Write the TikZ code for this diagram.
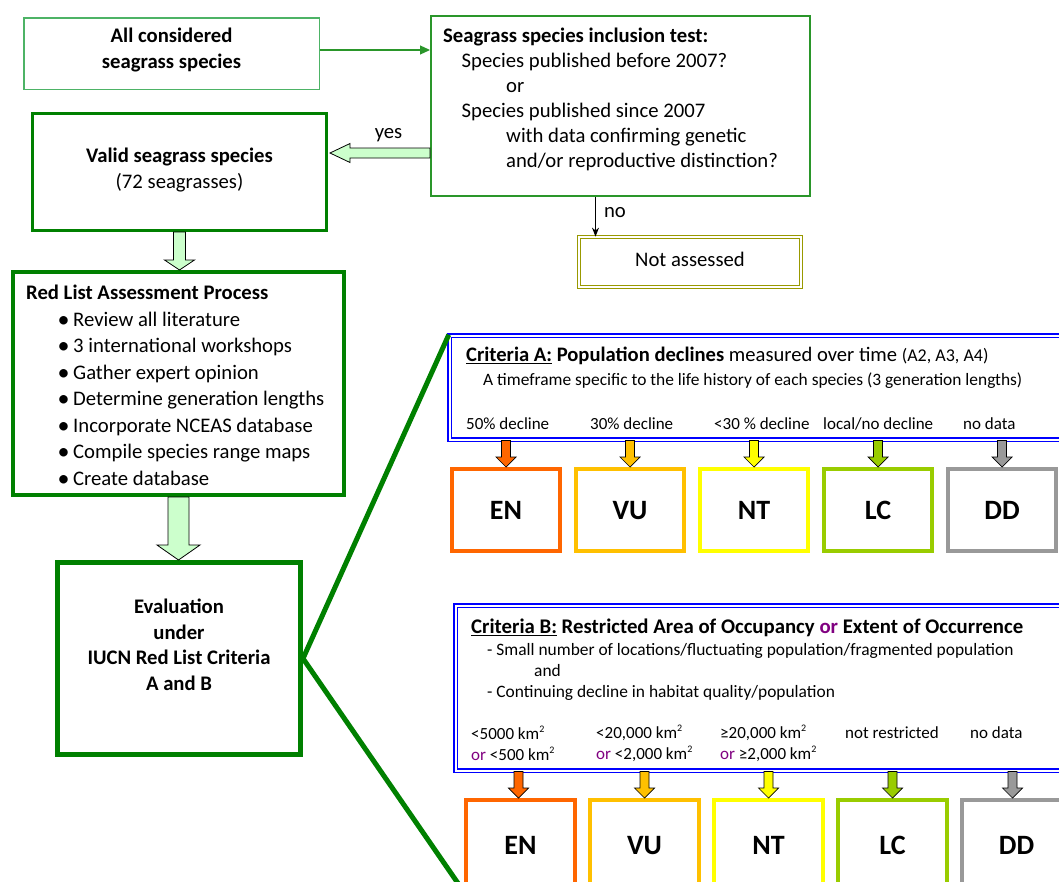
\documentclass[tikz,border=0pt]{standalone}
\usepackage{fontspec}
\setmainfont{Carlito}
\usetikzlibrary{positioning,calc,arrows.meta}

\definecolor{boxgreen}{HTML}{008000}
\definecolor{lightframe}{HTML}{4DB366}
\definecolor{testgreen}{HTML}{2A962A}
\definecolor{arrowfill}{HTML}{CCFFCC}
\definecolor{critblue}{HTML}{0000FF}
\definecolor{oliveframe}{HTML}{999900}
\definecolor{orpurple}{HTML}{800080}
\definecolor{enorange}{HTML}{FF6600}
\definecolor{vugold}{HTML}{FFC000}
\definecolor{ntyellow}{HTML}{FFFF00}
\definecolor{lcgreen}{HTML}{99CC00}
\definecolor{ddgray}{HTML}{999999}

\begin{document}
\begin{tikzpicture}[x=1pt,y=-1pt,> = stealth,
	frame/.style={draw, anchor=north west},
	txt/.style={inner sep=0pt, font=\fontsize{20.7}{26}\selectfont},
	txtb/.style={inner sep=0pt, font=\fontsize{20.7}{26}\selectfont\bfseries},
	small/.style={inner sep=0pt, anchor=west, font=\fontsize{17}{21}\selectfont},
	critbox/.style={draw=critblue, double=white, line width=1.5pt, double distance=2pt, anchor=north west},
	cat/.style={draw, line width=4pt, anchor=north west, minimum width=108pt, minimum height=82pt, text height=19pt, text depth=0pt, font=\fontsize{28}{30}\selectfont\bfseries},
	fat/.style={draw=black, line width=0.8pt, fill=arrowfill},
	catarrow/.style={draw=black, line width=0.7pt},
	fatdown/.style n args={3}{to path={($(\tikztostart)+(-#1,0)$) -- ($(\tikztostart)+(#1,0)$) -- ($(\tikztotarget)+(#1,-#3)$) -- ($(\tikztotarget)+(#2,-#3)$) -- (\tikztotarget) -- ($(\tikztotarget)+(-#2,-#3)$) -- ($(\tikztotarget)+(-#1,-#3)$) -- cycle}},
	fatleft/.style n args={3}{to path={($(\tikztostart)+(0,-#1)$) -- ($(\tikztotarget)+(#3,-#1)$) -- ($(\tikztotarget)+(#3,-#2)$) -- (\tikztotarget) -- ($(\tikztotarget)+(#3,#2)$) -- ($(\tikztotarget)+(#3,#1)$) -- ($(\tikztostart)+(0,#1)$) -- cycle}}]
	\useasboundingbox (0,0) rectangle (1059,881);

	% Species selection
	\node[frame, draw=lightframe, line width=1.5pt, minimum width=295.5pt, minimum height=71.5pt] (all) at (23,17) {};
	\node[txtb, align=center] (alltxt) at (171.5,49.7) {All considered\\seagrass species};

	\node[frame, draw=testgreen, line width=1.8pt, minimum width=379.2pt, minimum height=180.2pt] (test) at (430,15) {};
	\node[txt, anchor=west, align=left, font=\fontsize{20.7}{25}\selectfont] (testtxt) at (443,99.5) {\textbf{Seagrass species inclusion test:}\\\hspace*{18.5pt}Species published before 2007?\\\hspace*{63pt}or\\\hspace*{18.5pt}Species published since 2007\\\hspace*{63pt}with data confirming genetic\\\hspace*{63pt}and/or reproductive distinction?};

	\node[frame, draw=boxgreen, line width=3pt, minimum width=294pt, minimum height=117pt] (valid) at (31,112) {};
	\node[txt, align=center] (validtxt) at (179.5,169.7) {\textbf{Valid seagrass species}\\(72 seagrasses)};

	\node[frame, draw=oliveframe, double=white, line width=1.2pt, double distance=2pt, minimum width=221.6pt, minimum height=49.6pt] (notass) at (578.6,236.6) {};
	\node[txt] (notasstxt) at (690,259) {Not assessed};

	% Assessment
	\node[frame, draw=boxgreen, line width=4pt, minimum width=331pt, minimum height=223pt] (process) at (11,270) {};
	\node[txt, anchor=west, align=left, font=\fontsize{20.7}{26.5}\selectfont] (processtxt) at (26,385.5) {\textbf{Red List Assessment Process}\\
		\hspace*{31.5pt}\makebox[15.5pt][l]{\raisebox{-1pt}{\fontsize{24}{24}\selectfont\textbullet}}Review all literature\\
		\hspace*{31.5pt}\makebox[15.5pt][l]{\raisebox{-1pt}{\fontsize{24}{24}\selectfont\textbullet}}3 international workshops\\
		\hspace*{31.5pt}\makebox[15.5pt][l]{\raisebox{-1pt}{\fontsize{24}{24}\selectfont\textbullet}}Gather expert opinion\\
		\hspace*{31.5pt}\makebox[15.5pt][l]{\raisebox{-1pt}{\fontsize{24}{24}\selectfont\textbullet}}Determine generation lengths\\
		\hspace*{31.5pt}\makebox[15.5pt][l]{\raisebox{-1pt}{\fontsize{24}{24}\selectfont\textbullet}}Incorporate NCEAS database\\
		\hspace*{31.5pt}\makebox[15.5pt][l]{\raisebox{-1pt}{\fontsize{24}{24}\selectfont\textbullet}}Compile species range maps\\
		\hspace*{31.5pt}\makebox[15.5pt][l]{\raisebox{-1pt}{\fontsize{24}{24}\selectfont\textbullet}}Create database};

	\node[frame, draw=boxgreen, line width=5pt, minimum width=243pt, minimum height=192pt] (eval) at (55,560) {};
	\node[txtb, align=center, font=\fontsize{20.7}{25.5}\selectfont\bfseries] (evaltxt) at (179,645) {Evaluation\\under\\IUCN Red List Criteria\\A and B};

	% Criteria A
	\node[critbox, minimum width=620pt, minimum height=104.2pt] (critA) at (448.75,334.75) {};
	\node[txt, anchor=west, font=\fontsize{20.6}{24}\selectfont] (critAtitle) at (466,356) {\textbf{\underline{Criteria A:} Population declines} measured over time {\fontsize{18}{20}\selectfont(A2, A3, A4)}};
	\node[small, font=\fontsize{17.4}{21}\selectfont] (critAsub) at (483,381) {A timeframe specific to the life history of each species (3 generation lengths)};
	\node[small] (declEN) at (466,424) {50\% decline};
	\node[small] (declVU) at (590,424) {30\% decline};
	\node[small] (declNT) at (714,424) {<30 \% decline};
	\node[small] (declLC) at (823,424) {local/no decline};
	\node[small] (declDD) at (963,424) {no data};

	\node[cat, draw=enorange] (enA) at (450,467) {EN};
	\node[cat, draw=vugold, right=12pt of enA] (vuA) {VU};
	\node[cat, draw=ntyellow, right=12pt of vuA] (ntA) {NT};
	\node[cat, draw=lcgreen, right=12pt of ntA] (lcA) {LC};
	\node[cat, draw=ddgray, right=12pt of lcA] (ddA) {DD};

	% Criteria B
	\node[critbox, minimum width=620pt, minimum height=165.2pt] (critB) at (454.75,604.75) {};
	\node[txtb, anchor=west, font=\fontsize{20.8}{24}\selectfont\bfseries] (critBtitle) at (471,628) {\underline{Criteria B:} Restricted Area of Occupancy \textcolor{orpurple}{or} Extent of Occurrence};
	\node[small, align=left, font=\fontsize{17.4}{21}\selectfont] (critBsub) at (487,672) {- Small number of locations/fluctuating population/fragmented population\\\hspace*{47pt}and\\- Continuing decline in habitat quality/population};
	\node[small, align=left] (rangeEN) at (471,743.5) {<5000 km\raisebox{7pt}{\fontsize{10}{10}\selectfont 2}\\\textcolor{orpurple}{or} <500 km\raisebox{7pt}{\fontsize{10}{10}\selectfont 2}};
	\node[small, align=left] (rangeVU) at (596,743.5) {<20,000 km\raisebox{7pt}{\fontsize{10}{10}\selectfont 2}\\\textcolor{orpurple}{or} <2,000 km\raisebox{7pt}{\fontsize{10}{10}\selectfont 2}};
	\node[small, align=left] (rangeNT) at (720,743.5) {≥20,000 km\raisebox{7pt}{\fontsize{10}{10}\selectfont 2}\\\textcolor{orpurple}{or} ≥2,000 km\raisebox{7pt}{\fontsize{10}{10}\selectfont 2}};
	\node[small] (rangeLC) at (845,733) {not restricted};
	\node[small] (rangeDD) at (970,733) {no data};

	\node[cat, draw=enorange, minimum width=109pt, minimum height=90pt] (enB) at (464,798) {EN};
	\node[cat, draw=vugold, minimum width=109pt, minimum height=90pt, right=11pt of enB] (vuB) {VU};
	\node[cat, draw=ntyellow, minimum width=109pt, minimum height=90pt, right=11pt of vuB] (ntB) {NT};
	\node[cat, draw=lcgreen, minimum width=109pt, minimum height=90pt, right=11pt of ntB] (lcB) {LC};
	\node[cat, draw=ddgray, minimum width=109pt, minimum height=90pt, right=11pt of lcB] (ddB) {DD};

	% Flow arrows
	\coordinate (allout) at ([yshift=3.5pt]all.east);
	\draw[testgreen, line width=1.2pt, -{Triangle[length=10pt,width=9pt]}] (allout) -- (allout -| test.west);
	\coordinate (yestip) at ($(valid.east)+(2,-19)$);
	\draw[fat, fatleft={5}{9.5}{20}] (yestip -| test.west) to (yestip);
	\node[txt] (yes) at (388.5,135) {yes};
	\coordinate (noout) at ([xshift=-25pt]test.south);
	\draw[-{Stealth[length=9pt,width=7pt]}, line width=1pt] (noout) -- (noout |- notass.north);
	\node[txt] (no) at (615,213) {no};
	\draw[fat, fatdown={6}{15}{10}] (valid.south) to (valid.south |- process.north);
	\draw[fat, fatdown={10.5}{21.5}{15}] (process.south) to (process.south |- eval.north);

	% Zoom lines
	\draw[boxgreen, line width=5pt] (eval.east) -- (critA.north west);
	\draw[boxgreen, line width=5pt] (eval.east) -- (enB.south west);

	% Category arrows
	\draw[catarrow, fill=enorange, fatdown={4.5}{10}{10}] (enA.north |- critA.south) to (enA.north);
	\draw[catarrow, fill=vugold, fatdown={4.5}{10}{10}] (vuA.north |- critA.south) to (vuA.north);
	\draw[catarrow, fill=ntyellow, fatdown={4.5}{10}{10}] (ntA.north |- critA.south) to (ntA.north);
	\draw[catarrow, fill=lcgreen, fatdown={4.5}{10}{10}] (lcA.north |- critA.south) to (lcA.north);
	\draw[catarrow, fill=ddgray, fatdown={4.5}{10}{10}] (ddA.north |- critA.south) to (ddA.north);
	\draw[catarrow, fill=enorange, fatdown={4.5}{10}{10}] ([xshift=-2pt]enB.north |- critB.south) to ([xshift=-2pt]enB.north);
	\draw[catarrow, fill=vugold, fatdown={4.5}{10}{10}] (vuB.north |- critB.south) to (vuB.north);
	\draw[catarrow, fill=ntyellow, fatdown={4.5}{10}{10}] (ntB.north |- critB.south) to (ntB.north);
	\draw[catarrow, fill=lcgreen, fatdown={4.5}{10}{10}] (lcB.north |- critB.south) to (lcB.north);
	\draw[catarrow, fill=ddgray, fatdown={4.5}{10}{10}] ([xshift=-4pt]ddB.north |- critB.south) to ([xshift=-4pt]ddB.north);
\end{tikzpicture}
\end{document}
